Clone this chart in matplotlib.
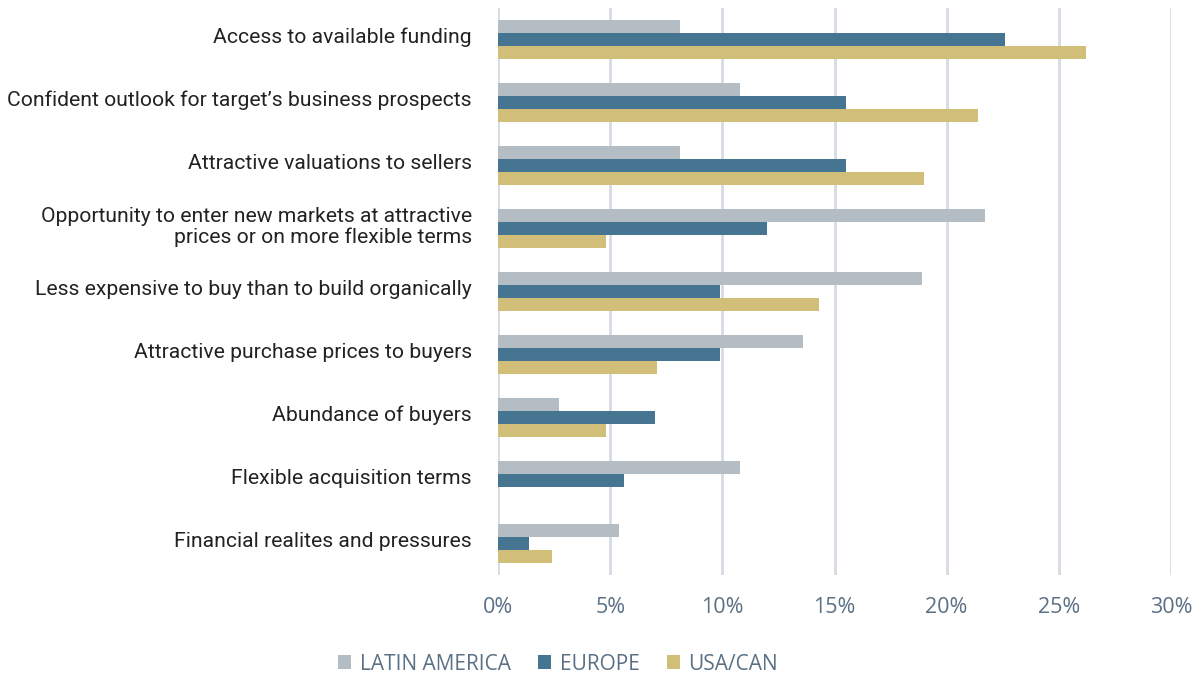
import matplotlib
matplotlib.use("Agg")
import matplotlib.pyplot as plt
from matplotlib.ticker import FuncFormatter
import numpy as np

categories = [
    "Access to available funding",
    "Confident outlook for target\u2019s business prospects",
    "Attractive valuations to sellers",
    "Opportunity to enter new markets at attractive\nprices or on more flexible terms",
    "Less expensive to buy than to build organically",
    "Attractive purchase prices to buyers",
    "Abundance of buyers",
    "Flexible acquisition terms",
    "Financial realites and pressures",
]
series_names = ["LATIN AMERICA", "EUROPE", "USA/CAN"]
latin_america = [8.1, 10.8, 8.1, 21.7, 18.9, 13.6, 2.7, 10.8, 5.4]
europe = [22.6, 15.5, 15.5, 12.0, 9.9, 9.9, 7.0, 5.6, 1.4]
usa_can = [26.2, 21.4, 19.0, 4.8, 14.3, 7.1, 4.8, 0.0, 2.4]
colors = ["#b4bcc4", "#467591", "#d1be78"]

fig = plt.figure(figsize=(11.99, 6.79), dpi=100)
ax = fig.add_axes([0.4154, 0.1532, 0.5612, 0.8348])

y = np.arange(len(categories))
h = 0.205
for i, (vals, name) in enumerate(zip([latin_america, europe, usa_can], series_names)):
    ax.barh(y + (i - 1) * h, vals, height=h, color=colors[i], label=name, zorder=3)

ax.set_ylim(len(categories) - 0.5, -0.5)
ax.set_xlim(0, 30)
ax.set_xticks(range(0, 31, 5))
ax.xaxis.set_major_formatter(FuncFormatter(lambda v, p: f"{int(v)}%"))
# labels sit a little above the group centre in the original
ax.set_yticks(y - 0.07)
ax.set_yticklabels(categories, fontsize=15.2, family="Roboto", color="#222222", linespacing=1.1)
ax.tick_params(axis="y", length=0, pad=19)
ax.tick_params(axis="x", length=0, pad=16, labelsize=15.5, labelcolor="#5a7085")
for lab in ax.get_xticklabels():
    lab.set_family("Open Sans")
ax.grid(axis="x", color="#d5dce2", linewidth=2, zorder=0)
for s in ax.spines.values():
    s.set_visible(False)

fig.legend(loc="center", bbox_to_anchor=(558 / 1199, 1 - 664 / 679), ncol=3, frameon=False,
           prop={"family": "Open Sans", "size": 15}, labelcolor="#5a7085",
           handlelength=0.65, handleheight=0.65, handletextpad=0.4, columnspacing=1.3)

fig.savefig("out.png", dpi=100)
